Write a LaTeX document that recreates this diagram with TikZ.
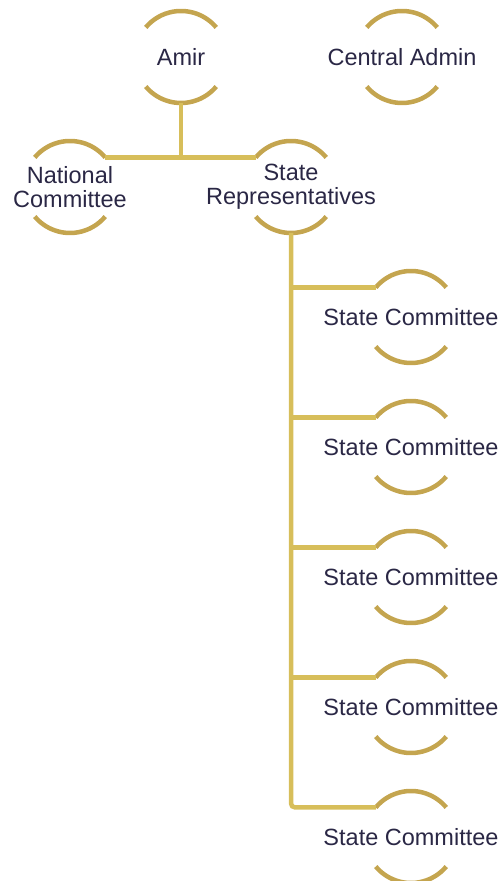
\documentclass[tikz,border=0pt]{standalone}
\usepackage{fontspec}
\setmainfont{Liberation Sans}
\usetikzlibrary{calc}
\definecolor{arcgold}{HTML}{C4A54F}
\definecolor{linegold}{HTML}{D7BE5A}
\definecolor{navy}{HTML}{2A2745}
\begin{document}
\begin{tikzpicture}[x=1pt,y=1pt,
  lbl/.style={text=navy, font=\fontsize{23.5}{24}\selectfont, align=center, inner sep=0pt},
  halo/.style={draw=arcgold, line width=4.5pt},
  conn/.style={draw=linegold, line width=4.5pt}]
\useasboundingbox (0,0) rectangle (501,881);
\node[lbl] (amir)  at (181,824) {Amir};
\node[lbl] (admin) at (402,824) {Central Admin};
\node[lbl] (nat)   at (70,694) {National\\Committee};
\node[lbl] (rep)   at (291,694) {State\\Representatives};
\node[lbl] (sc1)   at (411,564) {State Committee};
\node[lbl] (sc2)   at (411,434) {State Committee};
\node[lbl] (sc3)   at (411,304) {State Committee};
\node[lbl] (sc4)   at (411,174) {State Committee};
\node[lbl] (sc5)   at (411,44)  {State Committee};
\foreach \n in {amir,admin,nat,rep,sc1,sc2,sc3,sc4,sc5} {
  \draw[halo] ([shift={(40:46pt)}]\n.center) arc[start angle=40, end angle=140, radius=46pt];
  \draw[halo] ([shift={(220:46pt)}]\n.center) arc[start angle=220, end angle=320, radius=46pt];
  \coordinate (\n-tl) at ([shift={(140:46pt)}]\n.center);
  \coordinate (\n-tr) at ([shift={(40:46pt)}]\n.center);
  \coordinate (\n-b)  at ([shift={(270:46pt)}]\n.center);
}
% top level
\draw[conn] (nat-tr) -- (rep-tl);
\draw[conn] (amir-b) -- (amir-b |- nat-tr);
% trunk
\draw[conn, rounded corners=4pt] (rep-b) |- (sc5-tl);
\foreach \n in {sc1,sc2,sc3,sc4} {
  \draw[conn] (rep-b |- \n-tl) -- (\n-tl);
}
\end{tikzpicture}
\end{document}
